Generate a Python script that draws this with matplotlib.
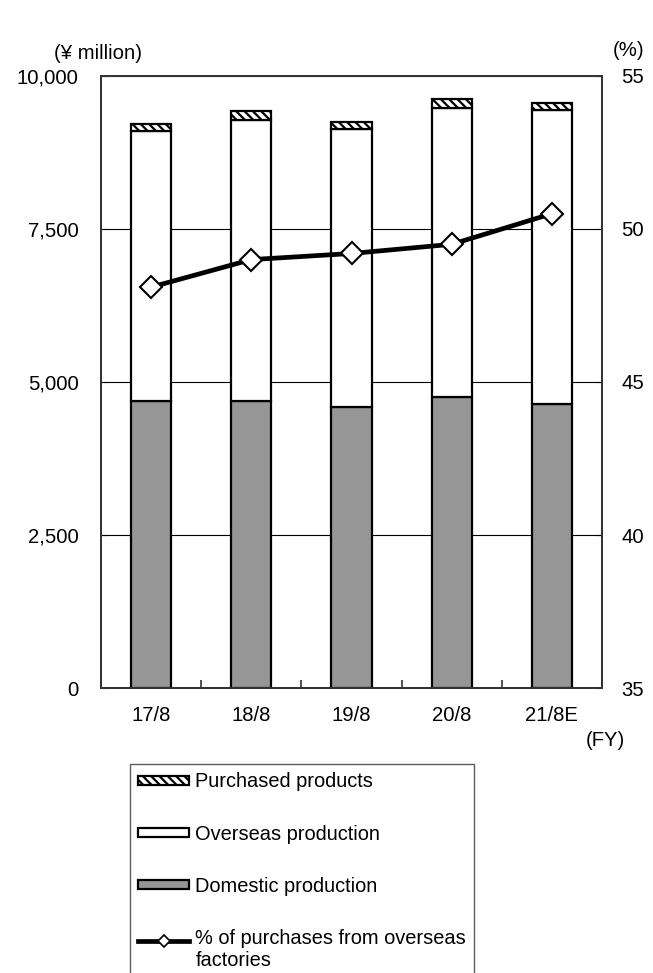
import matplotlib
matplotlib.use("Agg")
import matplotlib.pyplot as plt
import numpy as np
from matplotlib.patches import Patch
from matplotlib.lines import Line2D
from matplotlib.legend_handler import HandlerLine2D

plt.rcParams['font.family'] = ['Liberation Sans', 'DejaVu Sans']
plt.rcParams['hatch.linewidth'] = 1.6

years = ['17/8', '18/8', '19/8', '20/8', '21/8E']
domestic = [4690, 4690, 4590, 4750, 4640]
overseas = [4410, 4590, 4540, 4730, 4800]
purchased = [120, 140, 125, 145, 115]
overseas_pct = [48.1, 49.0, 49.2, 49.5, 50.5]

x = np.arange(len(years))
dom = np.array(domestic)
ovs = np.array(overseas)


# keeps the line handle level with the first line of a two-line label
class RaisedLine(HandlerLine2D):
    def create_artists(self, legend, orig_handle, xdescent, ydescent, width, height, fontsize, trans):
        return super().create_artists(legend, orig_handle, xdescent, ydescent - 15, width, height,
                                      fontsize, trans)


fig = plt.figure(figsize=(6.53, 9.73), dpi=100)
ax = fig.add_axes([0.1547, 0.2929, 0.7672, 0.629])

ax.bar(x, domestic, width=0.4, color='#969696', edgecolor='black', linewidth=1.6, zorder=3)
ax.bar(x, overseas, width=0.4, bottom=dom, color='white', edgecolor='black', linewidth=1.6, zorder=3)
ax.bar(x, purchased, width=0.4, bottom=dom + ovs, color='white', edgecolor='black',
       hatch='\\\\\\\\', linewidth=1.6, zorder=3)

ax.set_xlim(-0.5, len(years) - 0.5)
ax.set_ylim(0, 10000)
ax.set_yticks([0, 2500, 5000, 7500, 10000])
ax.set_yticklabels(['0', '2,500', '5,000', '7,500', '10,000'])
ax.yaxis.grid(True, color='black', linewidth=0.8, zorder=0)
ax.set_axisbelow(True)
ax.set_xticks(x)
ax.set_xticklabels(years)
ax.set_xticks(np.arange(0.5, len(years) - 1), minor=True)
ax.tick_params(axis='x', which='major', length=0, labelsize=14.6, pad=13)
ax.tick_params(axis='x', which='minor', direction='in', length=6, width=1.2, color='#333333')
ax.tick_params(axis='y', direction='in', length=5, labelsize=14.6, pad=16)
for s in ax.spines.values():
    s.set_color('#333333')
    s.set_linewidth(1.4)

ax2 = ax.twinx()
ax2.plot(x, overseas_pct, color='black', linewidth=3.4, marker='D', markersize=11,
         markerfacecolor='white', markeredgecolor='black', markeredgewidth=1.5, zorder=5)
ax2.set_ylim(35, 55)
ax2.set_yticks([35, 40, 45, 50, 55])
ax2.tick_params(axis='y', direction='in', length=5, labelsize=14.6, pad=14)
for s in ax2.spines.values():
    s.set_color('#333333')
    s.set_linewidth(1.4)

fig.text(0.150, 0.9455, '(¥ million)', ha='center', va='center', fontsize=14.6)
fig.text(0.963, 0.9486, '(%)', ha='center', va='center', fontsize=14.6)
fig.text(0.927, 0.2385, '(FY)', ha='center', va='center', fontsize=14.6)

handles = [
    Patch(facecolor='white', edgecolor='black', hatch='\\\\\\\\', linewidth=1.6),
    Patch(facecolor='white', edgecolor='black', linewidth=1.6),
    Patch(facecolor='#969696', edgecolor='black', linewidth=1.6),
    Line2D([0], [0], color='black', linewidth=3.4, marker='D', markersize=6,
           markerfacecolor='white', markeredgecolor='black', markeredgewidth=1.2),
]
labels = ['Purchased products', 'Overseas production', 'Domestic production',
          '% of purchases from overseas\nfactories']
leg = fig.legend(handles, labels, loc='upper left', bbox_to_anchor=(0.199, 0.2148),
                 fontsize=14.4, frameon=True, fancybox=False, edgecolor='#333333',
                 handlelength=2.55, handleheight=0.34, handletextpad=0.3,
                 labelspacing=1.66, borderpad=0.42, borderaxespad=0,
                 handler_map={Line2D: RaisedLine()})
leg.get_frame().set_linewidth(1.0)

fig.savefig('out.png', dpi=100)
